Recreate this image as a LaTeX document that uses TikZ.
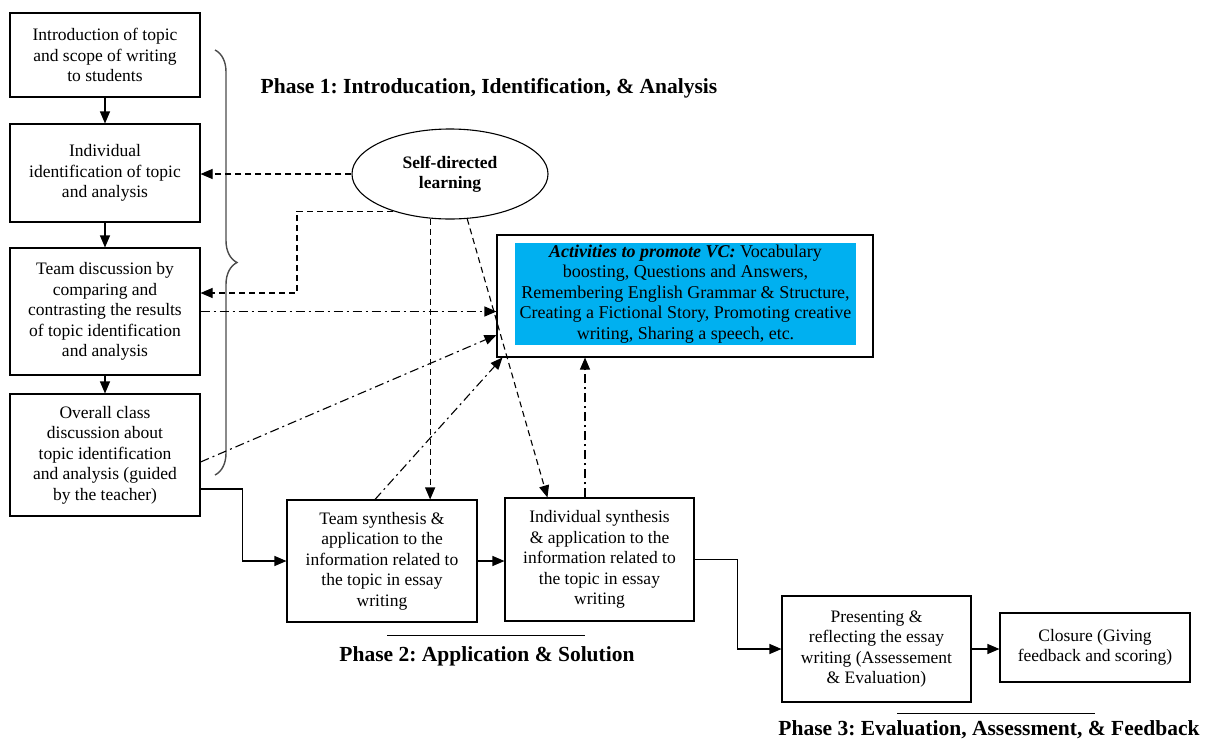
\documentclass[tikz,border=0pt]{standalone}
\usepackage{fontspec}
\setmainfont{Liberation Serif}
\frenchspacing
\usetikzlibrary{arrows.meta,shapes.geometric,decorations.pathreplacing}
\definecolor{vcblue}{RGB}{0,176,240}
\begin{document}
\begin{tikzpicture}[
            x=1pt, y=-1pt,
            stage/.style={draw, line width=1.1pt, align=center, inner sep=2pt, font=\fontsize{17.5}{20.5}\selectfont},
            link/.style={line width=1.1pt, -{Triangle[length=12pt,width=10pt]}},
            selflink/.style={link, dash pattern=on 6pt off 4pt},
            vclink/.style={link, dash pattern=on 9pt off 4pt on 2pt off 4pt},
            phase/.style={font=\fontsize{21.5}{24}\selectfont\bfseries}
        ]
        \useasboundingbox (0,0) rectangle (1208,742);
        \node[stage, minimum width=190, minimum height=84] (intro) at (105,55) {Introduction of topic\\and scope of writing\\to students};
        \node[stage, minimum width=190, minimum height=98] (idf) at (105,173) {Individual\\identification  of topic\\and analysis};
        \node[stage, minimum width=190, minimum height=127] (team) at (105,311.5) {Team discussion by\\comparing and\\contrasting the results\\of topic identification\\and analysis};
        \node[stage, minimum width=190, minimum height=122] (overall) at (105,455) {Overall class\\discussion about\\topic identification\\and analysis (guided\\by the teacher)};
        \node[ellipse, draw, line width=1.1pt, minimum width=196, minimum height=90, align=center, font=\fontsize{17.5}{20}\selectfont\bfseries] (sdl) at (450,174) {Self-directed\\learning};
        \node[draw, line width=1.1pt, minimum width=376, minimum height=122] (actbox) at (685,296) {};
        \node[fill=vcblue, minimum width=341, minimum height=102, inner sep=1pt, align=center, font=\fontsize{18}{20.5}\selectfont] (act) at (685.5,294) {\textbf{\textit{Activities to promote VC:}} Vocabulary\\boosting, Questions and Answers,\\Remembering English Grammar \& Structure,\\Creating a Fictional  Story, Promoting creative\\writing, Sharing a speech, etc.};
        \node[stage, minimum width=190, minimum height=122] (tsyn) at (382,561) {Team synthesis \&\\application to the\\information related to\\the topic in essay\\writing};
        \node[stage, minimum width=189, minimum height=123] (isyn) at (599.5,559.5) {Individual synthesis\\\& application to the\\information related to\\the topic in essay\\writing};
        \node[stage, minimum width=189, minimum height=106] (pres) at (876.5,649) {Presenting \&\\reflecting the essay\\writing (Assessement\\\& Evaluation)};
        \node[stage, minimum width=190, minimum height=69] (clos) at (1095,647.5) {Closure (Giving\\feedback and scoring)};
        \node[phase] (ph1) at (489,88) {Phase 1: Introducation, Identification, \& Analysis};
        \node[phase] (ph2) at (487,656) {Phase 2: Application \& Solution};
        \node[phase] (ph3) at (989,730) {Phase 3: Evaluation, Assessment, \& Feedback};
        \draw[line width=1pt] (387,635) -- (585,635);
        \draw[line width=1pt] (897,713) -- (1095,713);
        \draw[gray!60!black, line width=1.4pt, decorate, decoration={brace, amplitude=22pt, aspect=0.5}] (215,50) -- (215,475);
        \draw[link] (intro) -- (idf);
        \draw[link] (idf) -- (team);
        \draw[link] (team) -- (overall);
        \draw[selflink] (sdl.west) -- (sdl.west -| idf.east);
        \coordinate (sdlbend) at (297,293);
        \draw[selflink] (sdl.213) -| (sdlbend) -- (sdlbend -| team.east);
        \draw[selflink] (sdl.246) -- (sdl.246 |- tsyn.north);
        \draw[selflink] (sdl.291) -- ([xshift=43]isyn.north west);
        \draw[vclink] (team.east) -- (team.east -| actbox.west);
        \draw[vclink] ([yshift=-7]overall.east) -- ([yshift=-39]actbox.west);
        \draw[vclink] ([xshift=-7]tsyn.north) -- ([xshift=6]actbox.south west);
        \draw[vclink] ([xshift=-14.5]isyn.north) -- ([xshift=-14.5]isyn.north |- actbox.south);
        \draw[link] ([yshift=-34]overall.east) -- ++(42,0) |- (tsyn.west);
        \draw[link] (tsyn.east) -- (tsyn.east -| isyn.west);
        \draw[link] (isyn.east) -- ++(43,0) |- (pres.west);
        \draw[link] (pres.east) -- (pres.east -| clos.west);
    \end{tikzpicture}
\end{document}
